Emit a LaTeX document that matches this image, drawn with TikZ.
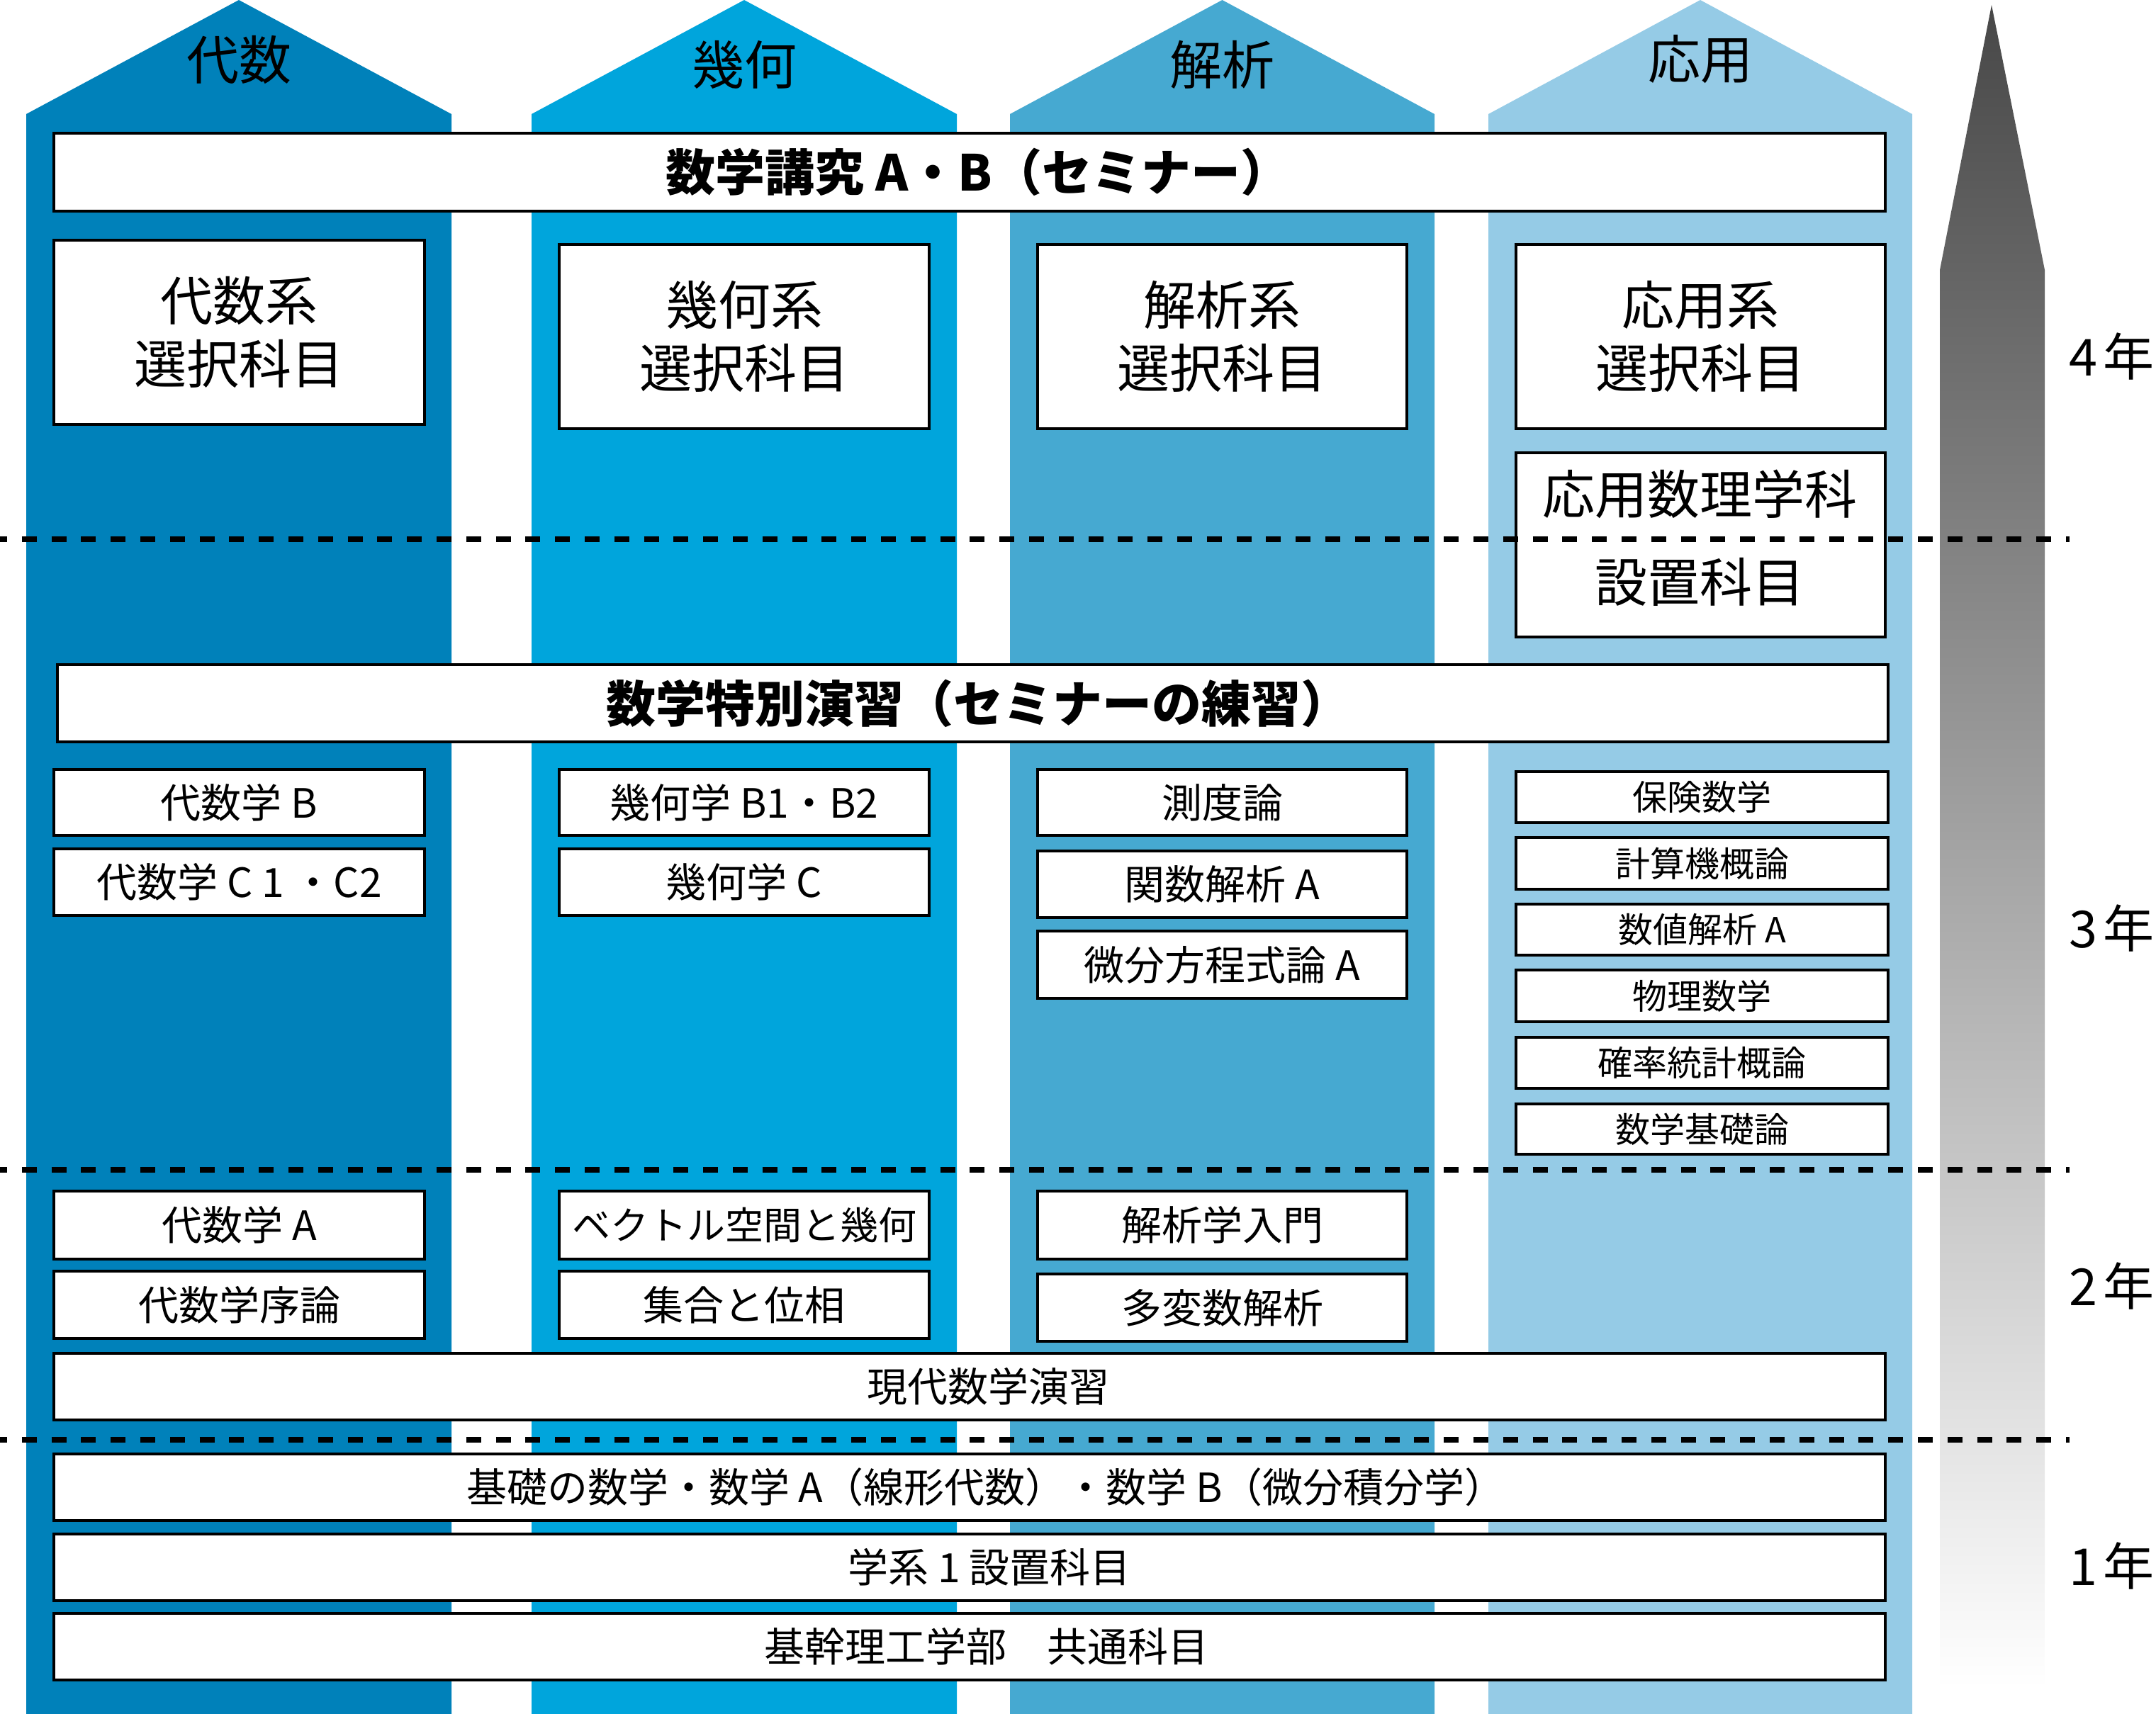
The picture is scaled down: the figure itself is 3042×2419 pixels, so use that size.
\documentclass[tikz,border=0pt]{standalone}
\usepackage{fontspec}
\setmainfont{Noto Sans CJK JP}
\definecolor{colA}{RGB}{0,129,186}
\definecolor{colB}{RGB}{0,165,220}
\definecolor{colC}{RGB}{70,169,209}
\definecolor{colD}{RGB}{149,203,230}
\newcommand\fonthead{\fontsize{18.5pt}{22.25pt}\selectfont}
\newcommand\fontbig{\bfseries\fontsize{17.5pt}{21pt}\selectfont}
\newcommand\fontmid{\fontsize{14.25pt}{17pt}\selectfont}
\newcommand\fontsmall{\fontsize{12.25pt}{14.5pt}\selectfont}
\newcommand\fontyear{\fontsize{18pt}{22pt}\selectfont}
\newcommand\yr[1]{#1\hspace{2pt}年}
\newcommand\mybox[7]{\node[box,font=#6,minimum width={(#4-#2-4)*0.25pt},minimum height={(#5-#3-4)*0.25pt}] (#1) at ({(#2+#4)/2},{(#3+#5)/2}) {#7};}
\begin{document}
\begin{tikzpicture}[x=0.25pt,y=-0.25pt,
  box/.style={draw=black,line width=1pt,fill=white,inner sep=0pt,align=center},
  divider/.style={line width=2pt,dash pattern=on 5.25pt off 5.2pt,dash phase=2.75pt},
  lbl/.style={inner sep=0pt,align=center}]
\useasboundingbox (0,0) rectangle (3042,2419);
% columns
\fill[colA] (37,2419) -- (37,161) -- (337,0) -- (637,161) -- (637,2419) -- cycle;
\fill[colB] (750,2419) -- (750,161) -- (1050,0) -- (1350,161) -- (1350,2419) -- cycle;
\fill[colC] (1425,2419) -- (1425,161) -- (1724.5,0) -- (2024,161) -- (2024,2419) -- cycle;
\fill[colD] (2100,2419) -- (2100,161) -- (2399,0) -- (2698,161) -- (2698,2419) -- cycle;
% gray arrow
\shade[top color=black!72,bottom color=white] (2737,2383) -- (2737,381) -- (2810,7) -- (2885,381) -- (2885,2383) -- cycle;
% column headers
\node[lbl,font=\fonthead] (h1) at (337,84) {代数};
\node[lbl,font=\fonthead] (h2) at (1050,91) {幾何};
\node[lbl,font=\fonthead] (h3) at (1724,91) {解析};
\node[lbl,font=\fonthead] (h4) at (2399,84) {応用};
% 4th year
\mybox{koukyu}{74}{186}{2662}{300}{\fontbig}{}
\node[lbl,font=\fontbig] (koukyut) at (1380,243) {数学講究 A・B（セミナー）};
\mybox{alg4}{74}{337}{601}{601}{\fonthead}{代数系\\選択科目}
\mybox{geo4}{787}{343}{1313}{607}{\fonthead}{幾何系\\選択科目}
\mybox{ana4}{1462}{343}{1987}{607}{\fonthead}{解析系\\選択科目}
\mybox{app4}{2137}{343}{2662}{607}{\fonthead}{応用系\\選択科目}
\mybox{ouyou}{2137}{637}{2662}{901}{\fonthead}{}
\node[lbl,font=\fonthead] (ouyou1) at (2398,697) {応用数理学科};
\node[lbl,font=\fonthead] (ouyou2) at (2398,821) {設置科目};
% 3rd year
\mybox{tokubetsu}{79}{936}{2666}{1049}{\fontbig}{}
\node[lbl,font=\fontbig] (tokubetsut) at (1380,993) {数学特別演習（セミナーの練習）};
\mybox{alg3b}{74}{1084}{601}{1181}{\fontmid}{代数学 B}
\mybox{alg3c}{74}{1196}{601}{1294}{\fontmid}{代数学 C 1 ・C2}
\mybox{geo3b}{787}{1084}{1313}{1181}{\fontmid}{幾何学 B1・B2}
\mybox{geo3c}{787}{1196}{1313}{1294}{\fontmid}{幾何学 C}
\mybox{ana3a}{1462}{1084}{1987}{1181}{\fontmid}{測度論}
\mybox{ana3b}{1462}{1199}{1987}{1297}{\fontmid}{関数解析 A}
\mybox{ana3c}{1462}{1312}{1987}{1411}{\fontmid}{微分方程式論 A}
\mybox{app3a}{2137}{1087}{2666}{1163}{\fontsmall}{保険数学}
\mybox{app3b}{2137}{1180}{2666}{1257}{\fontsmall}{計算機概論}
\mybox{app3c}{2137}{1274}{2666}{1350}{\fontsmall}{数値解析 A}
\mybox{app3d}{2137}{1367}{2666}{1444}{\fontsmall}{物理数学}
\mybox{app3e}{2137}{1462}{2666}{1538}{\fontsmall}{確率統計概論}
\mybox{app3f}{2137}{1556}{2666}{1631}{\fontsmall}{数学基礎論}
% 2nd year
\mybox{alg2a}{74}{1679}{601}{1779}{\fontmid}{代数学 A}
\mybox{alg2b}{74}{1792}{601}{1891}{\fontmid}{代数学序論}
\mybox{geo2a}{787}{1679}{1313}{1779}{\fontsize{13.5pt}{16pt}\selectfont}{ベクトル空間と幾何}
\mybox{geo2b}{787}{1792}{1313}{1891}{\fontmid}{集合と位相}
\mybox{ana2a}{1462}{1679}{1987}{1779}{\fontmid}{解析学入門}
\mybox{ana2b}{1462}{1796}{1987}{1895}{\fontmid}{多変数解析}
\mybox{gendai}{74}{1908}{2662}{2006}{\fontmid}{}
\node[lbl,font=\fontmid] (gendait) at (1394,1957) {現代数学演習};
% 1st year
\mybox{kiso}{74}{2050}{2662}{2148}{\fontmid}{}
\node[lbl,font=\fontmid] (kisot) at (1391,2099) {基礎の数学・数学 A（線形代数）・数学 B（微分積分学）};
\mybox{gakkei}{74}{2163}{2662}{2261}{\fontmid}{}
\node[lbl,font=\fontmid] (gakkeit) at (1396,2212) {学系 1 設置科目};
\mybox{kikan}{74}{2275}{2662}{2373}{\fontmid}{}
\node[lbl,font=\fontmid] (kikant) at (1392,2324) {基幹理工学部　共通科目};
% year labels
\node[lbl,font=\fontyear,anchor=west] (y4) at (2919,503) {\yr{4}};
\node[lbl,font=\fontyear,anchor=west] (y3) at (2919,1310) {\yr{3}};
\node[lbl,font=\fontyear,anchor=west] (y2) at (2919,1815) {\yr{2}};
\node[lbl,font=\fontyear,anchor=west] (y1) at (2919,2210) {\yr{1}};
% dividers
\coordinate (d1a) at (0,761); \coordinate (d1b) at (2920,761);
\coordinate (d2a) at (0,1651); \coordinate (d2b) at (2920,1651);
\coordinate (d3a) at (0,2032); \coordinate (d3b) at (2920,2032);
\draw[divider] (d1a) -- (d1b);
\draw[divider] (d2a) -- (d2b);
\draw[divider] (d3a) -- (d3b);
\end{tikzpicture}
\end{document}
